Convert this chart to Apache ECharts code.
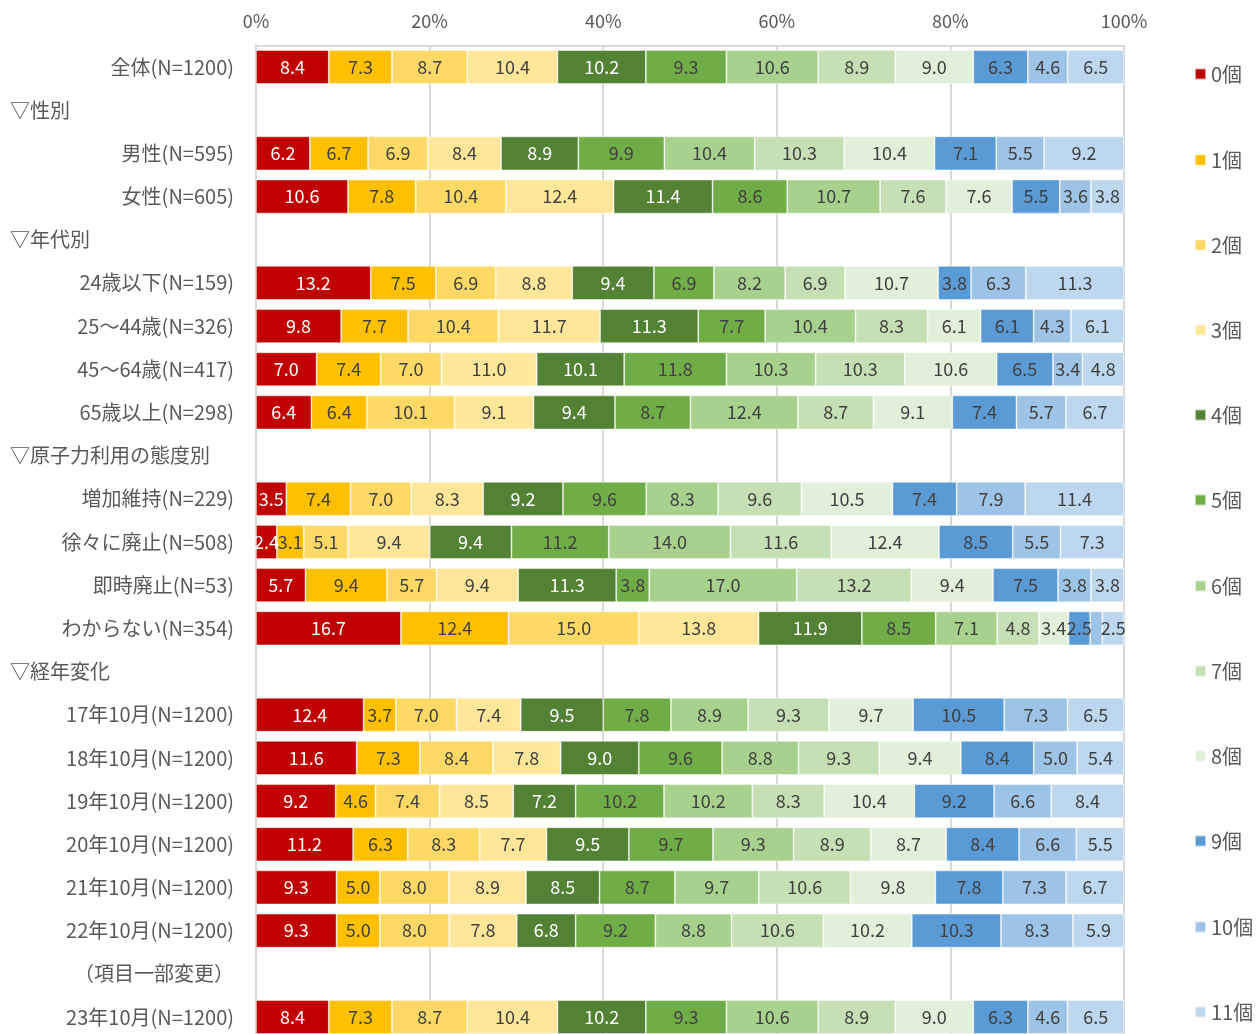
<!DOCTYPE html>
<html>
<head>
<meta charset="utf-8">
<style>
  html, body { margin: 0; padding: 0; background: #ffffff; overflow: hidden; }
  #chart { width: 1257px; height: 1042px; }
</style>
<script src="https://cdn.jsdelivr.net/npm/echarts@6/dist/echarts.min.js"></script>
</head>
<body>
<div id="chart"></div>
<script>
// ---- Data ----
const categories = [
  '全体(N=1200)',
  '▽性別',
  '男性(N=595)',
  '女性(N=605)',
  '▽年代別',
  '24歳以下(N=159)',
  '25～44歳(N=326)',
  '45～64歳(N=417)',
  '65歳以上(N=298)',
  '▽原子力利用の態度別',
  '増加維持(N=229)',
  '徐々に廃止(N=508)',
  '即時廃止(N=53)',
  'わからない(N=354)',
  '▽経年変化',
  '17年10月(N=1200)',
  '18年10月(N=1200)',
  '19年10月(N=1200)',
  '20年10月(N=1200)',
  '21年10月(N=1200)',
  '22年10月(N=1200)',
  '（項目一部変更）',
  '23年10月(N=1200)'
];
const headings = ['▽性別', '▽年代別', '▽原子力利用の態度別', '▽経年変化'];
const seriesNames = ['0個','1個','2個','3個','4個','5個','6個','7個','8個','9個','10個','11個'];

// values per row (null = heading row without bar)
const rowAll      = [8.4, 7.3, 8.7, 10.4, 10.2, 9.3, 10.6, 8.9, 9.0, 6.3, 4.6, 6.5];
const rowMale     = [6.2, 6.7, 6.9, 8.4, 8.9, 9.9, 10.4, 10.3, 10.4, 7.1, 5.5, 9.2];
const rowFemale   = [10.6, 7.8, 10.4, 12.4, 11.4, 8.6, 10.7, 7.6, 7.6, 5.5, 3.6, 3.8];
const rowAge24    = [13.2, 7.5, 6.9, 8.8, 9.4, 6.9, 8.2, 6.9, 10.7, 3.8, 6.3, 11.3];
const rowAge25    = [9.8, 7.7, 10.4, 11.7, 11.3, 7.7, 10.4, 8.3, 6.1, 6.1, 4.3, 6.1];
const rowAge45    = [7.0, 7.4, 7.0, 11.0, 10.1, 11.8, 10.3, 10.3, 10.6, 6.5, 3.4, 4.8];
const rowAge65    = [6.4, 6.4, 10.1, 9.1, 9.4, 8.7, 12.4, 8.7, 9.1, 7.4, 5.7, 6.7];
const rowIncrease = [3.5, 7.4, 7.0, 8.3, 9.2, 9.6, 8.3, 9.6, 10.5, 7.4, 7.9, 11.4];
const rowGradual  = [2.4, 3.1, 5.1, 9.4, 9.4, 11.2, 14.0, 11.6, 12.4, 8.5, 5.5, 7.3];
const rowImmed    = [5.7, 9.4, 5.7, 9.4, 11.3, 3.8, 17.0, 13.2, 9.4, 7.5, 3.8, 3.8];
const rowUnknown  = [16.7, 12.4, 15.0, 13.8, 11.9, 8.5, 7.1, 4.8, 3.4, 2.5, 1.4, 2.5];
const row2017     = [12.4, 3.7, 7.0, 7.4, 9.5, 7.8, 8.9, 9.3, 9.7, 10.5, 7.3, 6.5];
const row2018     = [11.6, 7.3, 8.4, 7.8, 9.0, 9.6, 8.8, 9.3, 9.4, 8.4, 5.0, 5.4];
const row2019     = [9.2, 4.6, 7.4, 8.5, 7.2, 10.2, 10.2, 8.3, 10.4, 9.2, 6.6, 8.4];
const row2020     = [11.2, 6.3, 8.3, 7.7, 9.5, 9.7, 9.3, 8.9, 8.7, 8.4, 6.6, 5.5];
const row2021     = [9.3, 5.0, 8.0, 8.9, 8.5, 8.7, 9.7, 10.6, 9.8, 7.8, 7.3, 6.7];
const row2022     = [9.3, 5.0, 8.0, 7.8, 6.8, 9.2, 8.8, 10.6, 10.2, 10.3, 8.3, 5.9];
const row2023     = [8.4, 7.3, 8.7, 10.4, 10.2, 9.3, 10.6, 8.9, 9.0, 6.3, 4.6, 6.5];

const rows = [
  rowAll, null, rowMale, rowFemale, null,
  rowAge24, rowAge25, rowAge45, rowAge65, null,
  rowIncrease, rowGradual, rowImmed, rowUnknown, null,
  row2017, row2018, row2019, row2020, row2021, row2022, null, row2023
];

const xTicks = [0, 20, 40, 60, 80, 100];

// ---- Styles ----
const colors = ['#C00000','#FFC000','#FFD966','#FFE699','#548235','#70AD47','#A9D18E','#C5E0B4','#E2F0D9','#5B9BD5','#9DC3E6','#BDD7EE'];
const whiteLabel = [0, 4];
const legendY = [75, 161, 246, 331, 416, 501, 587, 672, 757, 842, 928, 1013];
const FONT = '"Noto Sans CJK JP", "Noto Sans", sans-serif';

// build series (100% stacked: normalize each row, label with original value)
const series = seriesNames.map((name, si) => ({
  name: name,
  type: 'bar',
  stack: 'total',
  barWidth: 34,
  itemStyle: { color: colors[si], borderColor: 'rgba(255,255,255,0.6)', borderWidth: 0.8 },
  emphasis: { disabled: true },
  label: {
    show: true,
    position: 'inside',
    fontFamily: FONT,
    fontSize: 18,
    color: whiteLabel.includes(si) ? '#FFFFFF' : '#404040',
    formatter: p => {
      const raw = p.data && p.data.raw;
      if (raw == null || raw < 2) return '';
      return raw.toFixed(1);
    }
  },
  data: rows.map(r => {
    if (!r) return { value: null, raw: null };
    const sum = r.reduce((a, b) => a + b, 0);
    return { value: r[si] / sum * 100, raw: r[si] };
  })
}));

const legends = seriesNames.map((name, i) => ({
  data: [name],
  left: 1194,
  top: legendY[i] - 11,
  padding: 0,
  itemWidth: 11,
  itemHeight: 11,
  icon: 'rect',
  selectedMode: false,
  textStyle: { fontFamily: FONT, fontSize: 20, color: '#595959' }
}));

const chart = echarts.init(document.getElementById('chart'));
chart.setOption({
  animation: false,
  backgroundColor: '#ffffff',
  legend: legends,
  grid: { left: 256, top: 45.4, width: 868, height: 993.2, containLabel: false },
  xAxis: {
    type: 'value',
    position: 'top',
    min: 0,
    max: 100,
    interval: 20,
    axisLine: { show: true, lineStyle: { color: '#D9D9D9', width: 2 } },
    axisTick: { show: false },
    splitLine: { show: true, lineStyle: { color: '#D9D9D9', width: 2 } },
    axisLabel: {
      margin: 15,
      fontFamily: FONT,
      fontSize: 18,
      color: '#595959',
      formatter: v => xTicks.includes(v) ? v + '%' : ''
    }
  },
  yAxis: {
    type: 'category',
    inverse: true,
    data: categories,
    axisLine: { show: true, lineStyle: { color: '#D9D9D9', width: 2 } },
    axisTick: { show: false },
    axisLabel: {
      margin: 22,
      fontFamily: FONT,
      fontSize: 20,
      color: '#595959',
      formatter: v => headings.includes(v) ? '{h|' + v + '}' : v,
      rich: {
        h: { width: 224, align: 'left', fontFamily: FONT, fontSize: 20, color: '#595959' }
      }
    }
  },
  series: series
});
</script>
</body>
</html>
